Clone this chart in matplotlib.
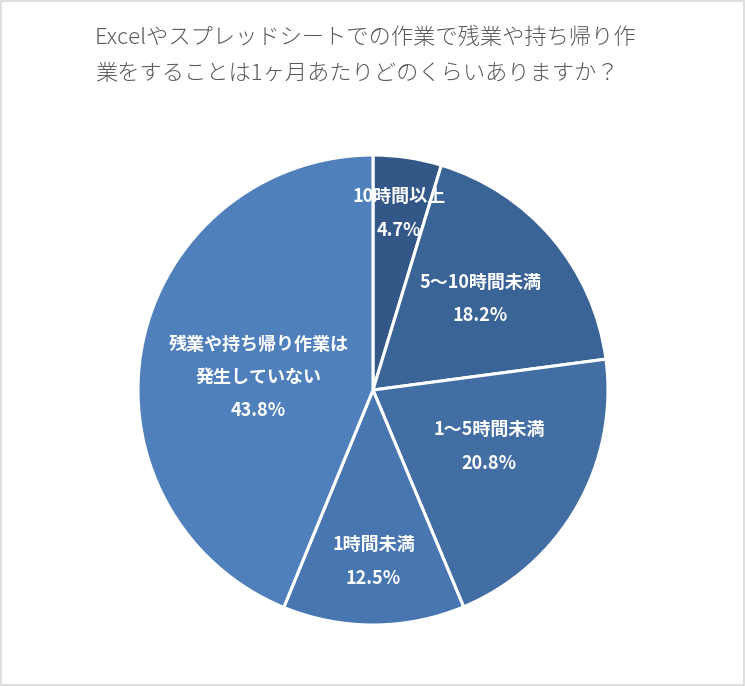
import numpy as np
import matplotlib
matplotlib.use("Agg")
import matplotlib.pyplot as plt
from matplotlib.patches import Rectangle

plt.rcParams['font.family'] = ['Noto Sans CJK JP', 'DejaVu Sans']

# data
categories = ["10時間以上", "5〜10時間未満", "1〜5時間未満", "1時間未満", "残業や持ち帰り作業は\n発生していない"]
shares = [4.7, 18.2, 20.8, 12.5, 43.8]
colors = ["#335888", "#3b6496", "#436ea4", "#4876b0", "#4f80bc"]
label_r = [0.76, 0.60, 0.55, 0.73, 0.49]  # label distance per slice (fraction of radius)
label_shift = [0, 0, 4, 0, 5]  # degrees, nudges labels like Excel does

title = "Excelやスプレッドシートでの作業で残業や持ち帰り作\n業をすることは1ヶ月あたりどのくらいありますか？"

fig = plt.figure(figsize=(7.45, 6.86), dpi=100)
fig.patches.append(Rectangle((0.001, 0.001), 0.998, 0.997, transform=fig.transFigure,
                             fill=False, edgecolor="#d9d9d9", linewidth=1.2))

ax = fig.add_axes([0.1852, 0.0889, 0.6309, 0.6851])
wedges, _ = ax.pie(shares, colors=colors, startangle=90, counterclock=False, radius=1,
                   wedgeprops=dict(edgecolor="white", linewidth=2.2))
ax.set_xlim(-1, 1)
ax.set_ylim(-1, 1)
ax.axis("off")

for w, cat, val, r, s in zip(wedges, categories, shares, label_r, label_shift):
    ang = np.deg2rad((w.theta1 + w.theta2) / 2 + s)
    x, y = r * np.cos(ang), r * np.sin(ang)
    ax.text(x, y, f"{cat}\n{val:.1f}%", ha="center", va="center", color="white",
            fontsize=13, fontweight="bold", linespacing=1.95)

fig.text(0.127, 0.918, title, ha="left", va="center", color="#595959",
         fontsize=16, fontweight="light", linespacing=1.85)

fig.savefig("out.png", dpi=100)
